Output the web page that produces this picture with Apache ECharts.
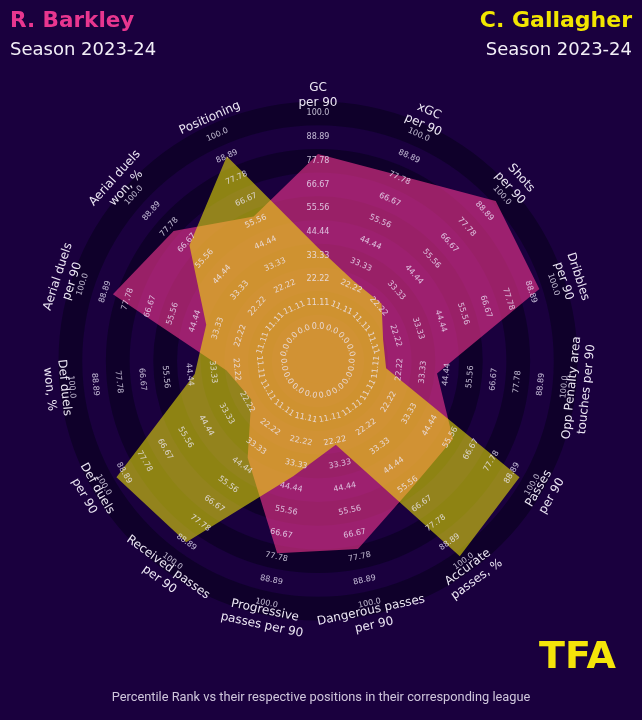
<!DOCTYPE html>
<html><head><meta charset="utf-8">
<script src="https://cdn.jsdelivr.net/npm/echarts@6/dist/echarts.min.js"></script>
<style>html,body{margin:0;padding:0;background:#19003c;}#c{width:642px;height:720px;}</style>
</head><body><div id="c"></div>
<script>
const categories = ['GC per 90','xGC per 90','Shots per 90','Dribbles per 90','Opp Penalty area touches per 90','Passes per 90','Accurate passes, %','Dangerous passes per 90','Progressive passes per 90','Received passes per 90','Def duels per 90','Def duels won, %','Aerial duels per 90','Aerial duels won, %','Positioning'];
const categoryLabels = ['GC\nper 90','xGC\nper 90','Shots\nper 90','Dribbles\nper 90','Opp Penalty area\ntouches per 90','Passes\nper 90','Accurate\npasses, %','Dangerous passes\nper 90','Progressive\npasses per 90','Received passes\nper 90','Def duels\nper 90','Def duels\nwon, %','Aerial duels\nper 90','Aerial duels\nwon, %','Positioning'];
const barkley   = [81, 79, 96, 93, 40, 57, 58, 74, 76, 40, 20, 27, 85, 75, 58];
const gallagher = [37, 25, 24, 16, 16, 93, 97, 24, 39, 89, 93, 42, 39, 65, 89];
const tickValues = [0, 11.11, 22.22, 33.33, 44.44, 55.56, 66.67, 77.78, 88.89, 100];
const tickLabels = ['0.0','11.11','22.22','33.33','44.44','55.56','66.67','77.78','88.89','100.0'];
const players = ['R. Barkley', 'C. Gallagher'];
const seasons = ['Season 2023-24', 'Season 2023-24'];
const footnote = 'Percentile Rank vs their respective positions in their corresponding league';

const BG = '#1a003e', BAND = '#0f002a';
const FONT = 'DejaVu Sans';
const LABEL_R_UP = 108.5, LABEL_R_DOWN = 107;

const chart = echarts.init(document.getElementById('c'), null, {renderer: 'canvas', width: 642, height: 720});

function tangentRotation(x, y, cx, cy) {
  const a = Math.atan2(cy - y, x - cx) * 180 / Math.PI;
  const deg = (a > 0 && a < 180) ? a - 90 : a + 90;
  return deg * Math.PI / 180;
}

function polygonRender(values, fill) {
  return function (params, api) {
    if (params.dataIndex !== 0) return null;
    const pts = values.map((v, i) => api.coord([v, i]));
    return {type: 'polygon', shape: {points: pts}, style: {fill: fill, stroke: 'none'}};
  };
}

const tickData = [];
categories.forEach((c, i) => tickValues.forEach((v, j) => tickData.push([v, i, j])));

chart.setOption({
  backgroundColor: BG,
  animation: false,
  title: [
    {text: players[0], left: 5, top: 5, textStyle: {color: '#e8368f', fontSize: 21.5, fontWeight: 'bold', fontFamily: FONT}},
    {text: seasons[0], left: 5, top: 36, textStyle: {color: '#f2eef7', fontSize: 18, fontWeight: 'normal', fontFamily: FONT}},
    {text: players[1], right: 5, top: 5, textStyle: {color: '#f2e600', fontSize: 22, fontWeight: 'bold', fontFamily: FONT}},
    {text: seasons[1], right: 5, top: 36, textStyle: {color: '#f2eef7', fontSize: 18, fontWeight: 'normal', fontFamily: FONT}},
    {text: footnote, left: 'center', top: 686, textStyle: {color: '#cfc6dc', fontSize: 12.8, fontWeight: 'normal', fontFamily: 'Roboto'}},
    {text: 'TFA', right: 21, top: 634, textStyle: {color: '#f4e40a', fontSize: 38, fontWeight: 'bold', fontFamily: FONT}}
  ],
  polar: {center: [318, 361], radius: [22.5, 259.5]},
  angleAxis: {
    type: 'category', data: categories, startAngle: 90, clockwise: true, boundaryGap: false,
    axisLine: {show: false}, axisTick: {show: false}, axisLabel: {show: false}, splitLine: {show: false}
  },
  radiusAxis: {
    type: 'value', min: -50 / 9, max: 950 / 9, interval: 100 / 9,
    axisLine: {show: false}, axisTick: {show: false}, axisLabel: {show: false}, splitLine: {show: false},
    splitArea: {show: true, areaStyle: {color: [BG, BAND]}}
  },
  series: [
    {type: 'custom', coordinateSystem: 'polar', data: barkley.map((v, i) => [v, i]), z: 2,
     renderItem: polygonRender(barkley, 'rgba(235,50,140,0.63)')},
    {type: 'custom', coordinateSystem: 'polar', data: gallagher.map((v, i) => [v, i]), z: 3,
     renderItem: polygonRender(gallagher, 'rgba(255,248,0,0.53)')},
    {type: 'custom', coordinateSystem: 'polar', data: tickData, z: 4, silent: true,
     renderItem: function (params, api) {
       const v = api.value(0), i = api.value(1), j = api.value(2);
       const p = api.coord([v, i]);
       const cs = params.coordSys;
       return {type: 'text', x: p[0], y: p[1], rotation: tangentRotation(p[0], p[1], cs.cx, cs.cy),
         style: {text: tickLabels[j], fill: 'rgba(240,234,252,0.78)', font: '8px "DejaVu Sans"', align: 'center', verticalAlign: 'middle'}};
     }},
    {type: 'custom', coordinateSystem: 'polar', data: categories.map((c, i) => [i]), z: 4, silent: true,
     renderItem: function (params, api) {
       const i = api.value(0);
       const probe = api.coord([100, i]);
       const cs = params.coordSys;
       const up = (cs.cy - probe[1]) > 0;
       const p = api.coord([up ? LABEL_R_UP : LABEL_R_DOWN, i]);
       return {type: 'text', x: p[0], y: p[1], rotation: tangentRotation(p[0], p[1], cs.cx, cs.cy),
         style: {text: categoryLabels[i], fill: '#ece6f4', font: '12px "DejaVu Sans"', align: 'center', verticalAlign: 'middle', lineHeight: 15}};
     }}
  ]
});
</script></body></html>
